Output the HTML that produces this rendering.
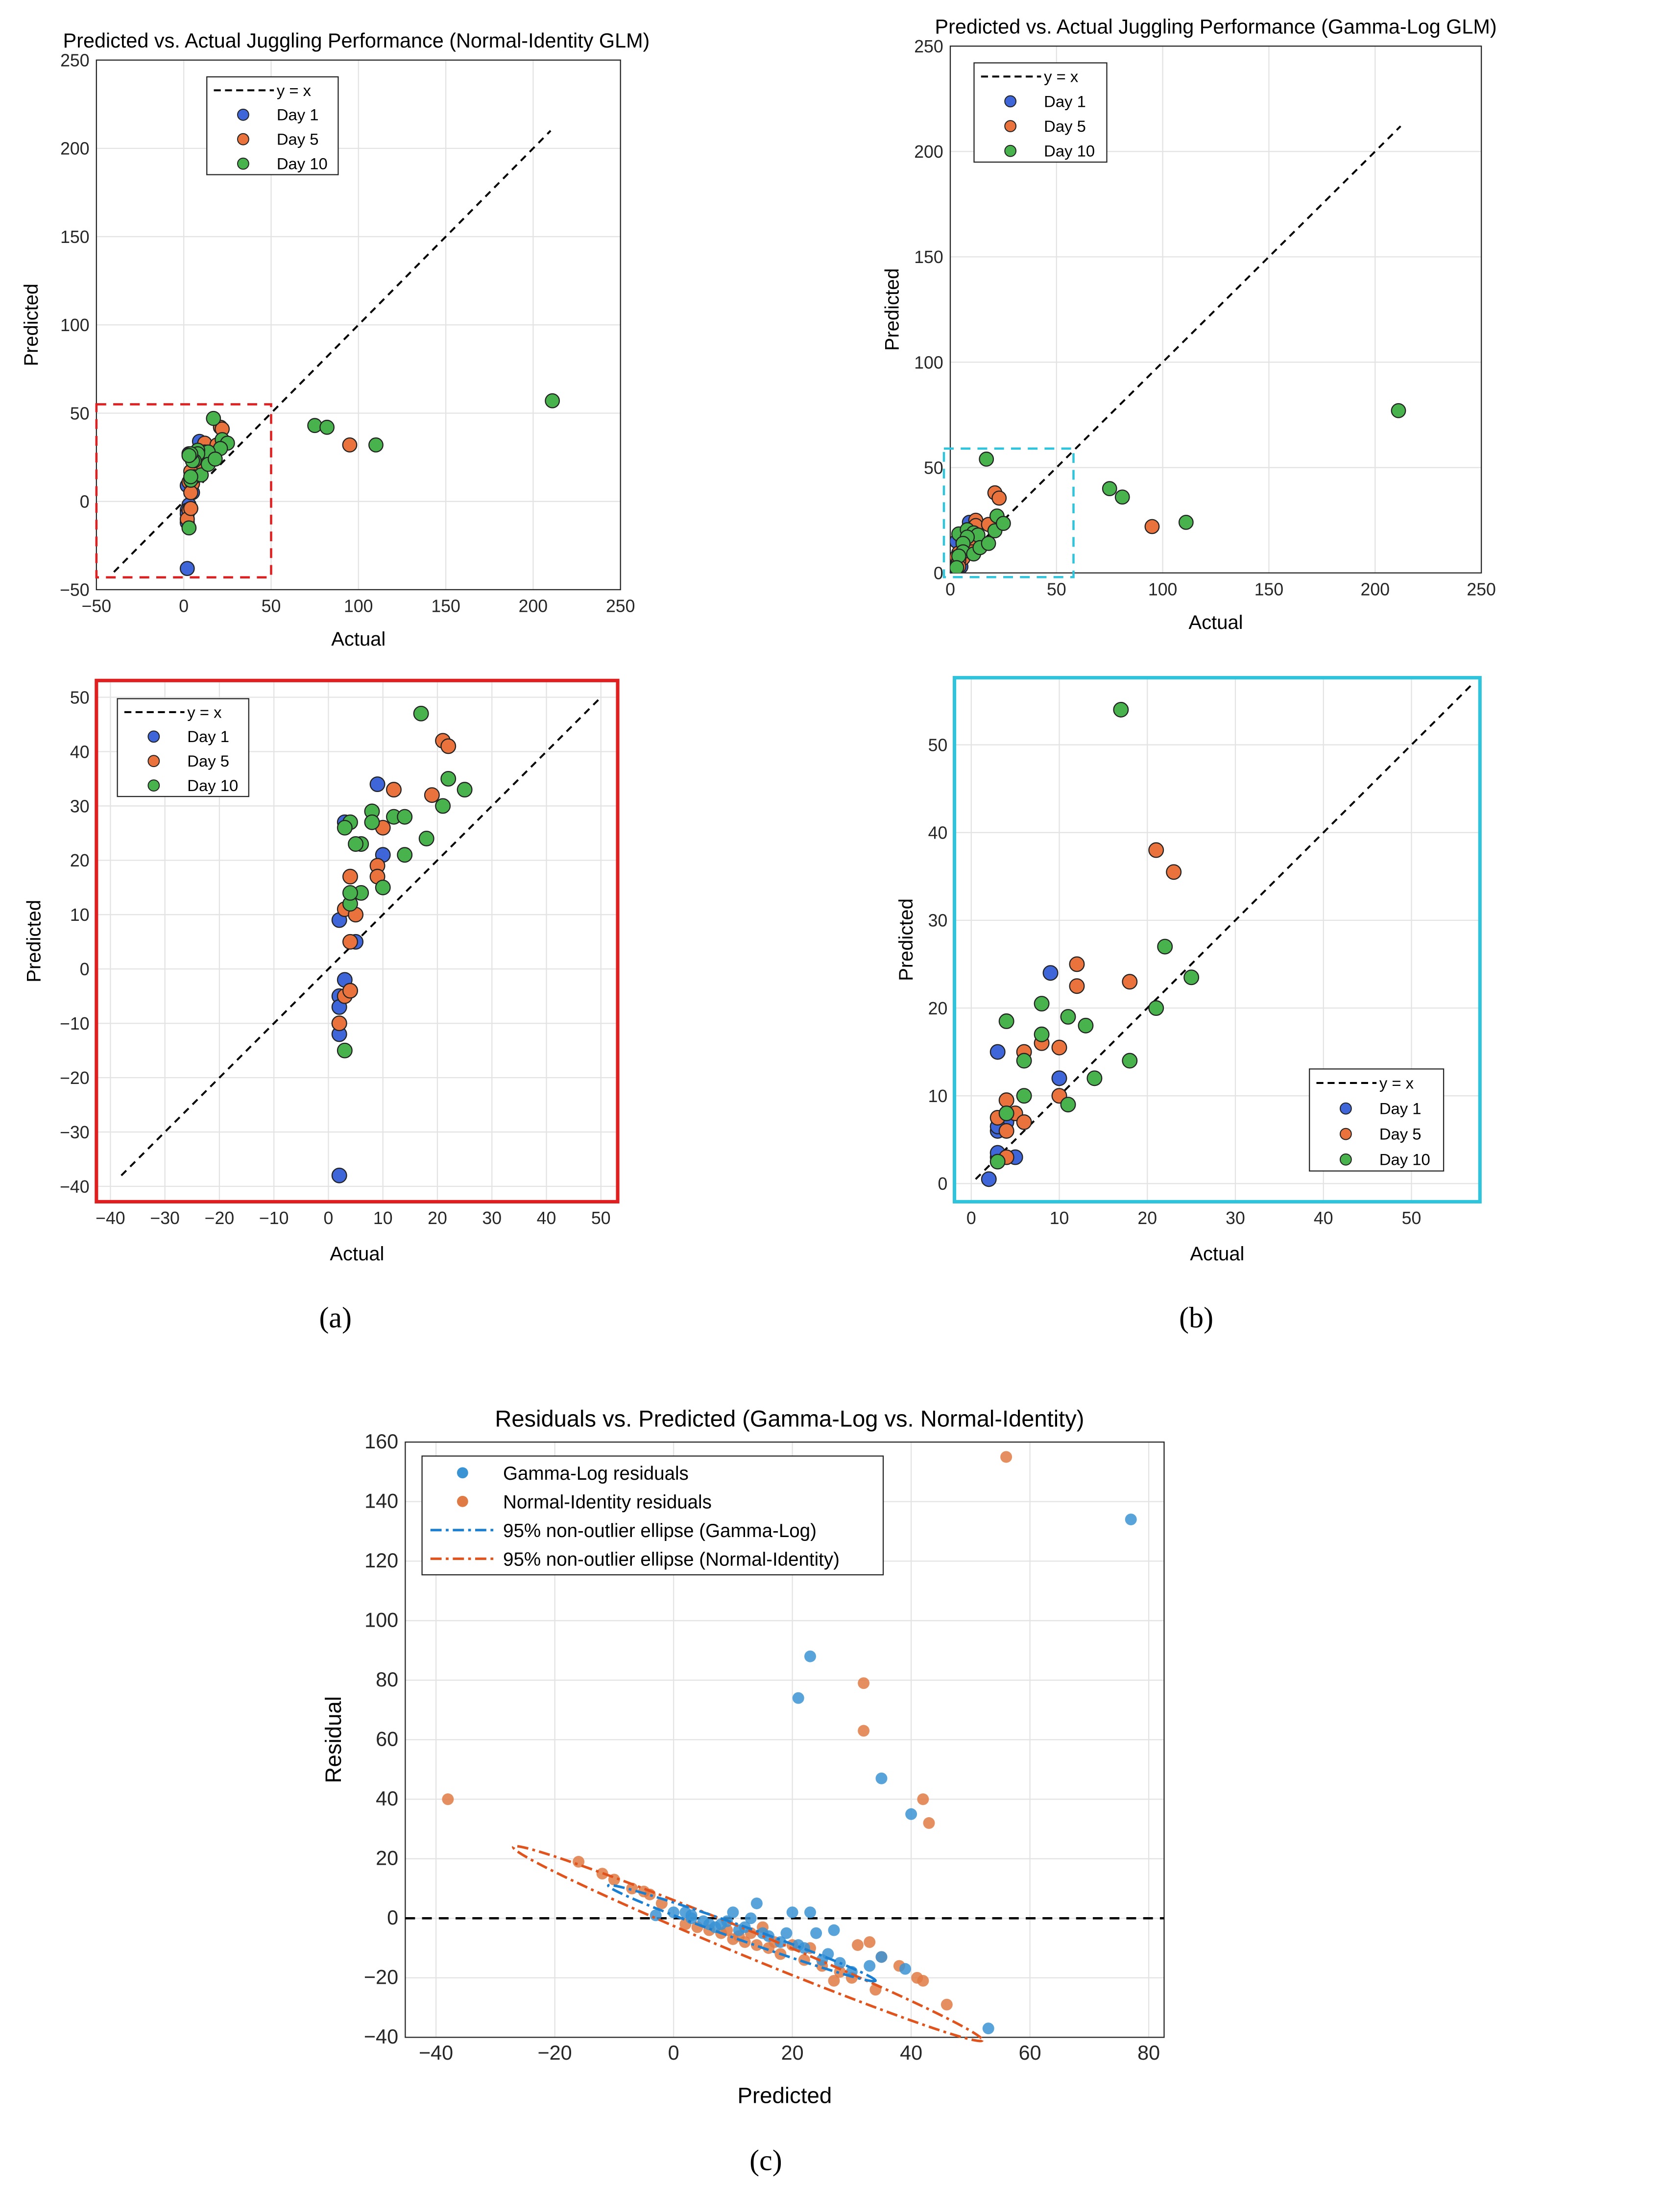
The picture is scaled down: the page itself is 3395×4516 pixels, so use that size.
<!DOCTYPE html>
<html><head><meta charset="utf-8"><style>
html,body{margin:0;padding:0;background:#fff}
svg{display:block}
text{font-family:"Liberation Sans",sans-serif}
</style></head><body>
<svg id="fig" xmlns="http://www.w3.org/2000/svg" width="3395" height="4516" viewBox="0 0 1190 1583" preserveAspectRatio="none">
<text x="255" y="34" text-anchor="middle" font-size="14.5">Predicted vs. Actual Juggling Performance (Normal-Identity GLM)</text>
<text x="870" y="24" text-anchor="middle" font-size="14.5">Predicted vs. Actual Juggling Performance (Gamma-Log GLM)</text>
<text x="565" y="1021" text-anchor="middle" font-size="16.5">Residuals vs. Predicted (Gamma-Log vs. Normal-Identity)</text>
<text x="240" y="950" text-anchor="middle" font-size="21" style="font-family:'Liberation Serif',serif">(a)</text>
<text x="856" y="950" text-anchor="middle" font-size="21" style="font-family:'Liberation Serif',serif">(b)</text>
<text x="548" y="1553" text-anchor="middle" font-size="21" style="font-family:'Liberation Serif',serif">(c)</text>
</svg>
<script>
// ---- data ----
const aDay1 = [[9,34],[3,27],[10,21],[5,5],[2,9],[3,-2],[2,-5],[2,-7],[4,-4],[2,-10],[2,-12],[2,-38]];
const aDay5 = [[21,42],[22,41],[12,33],[10,26],[19,32],[9,19],[9,17],[4,17],[3,11],[5,10],[4,5],[3,-5],[2,-10],[4,-4],[95,32]];
const aDay10 = [[17,47],[22,35],[25,33],[21,30],[12,28],[14,28],[8,29],[8,27],[6,23],[5,23],[4,27],[3,26],[6,14],[4,12],[10,15],[14,21],[18,24],[3,-15],[4,14],[75,43],[82,42],[110,32],[211,57]];
const bDay1 = [[2,0.5],[3,3],[3,3.5],[3,6],[3,15],[5,3],[9,24],[10,12],[4,7],[4,8],[3,6.5]];
const bDay5 = [[21,38],[23,35.5],[12,25],[12,22.5],[18,23],[8,16],[10,15.5],[6,15],[4,9.5],[5,8],[6,7],[10,10],[3,7.5],[4,6],[4,3],[95,22]];
const bDay10 = [[17,54],[4,18.5],[8,20.5],[11,19],[13,18],[8,17],[6,14],[6,10],[11,9],[14,12],[18,14],[21,20],[22,27],[25,23.5],[4,8],[3,2.5],[75,40],[81,36],[111,24],[211,77]];
const cGamma = [[77,134],[23,88],[21,74],[35,47],[40,35],[53,-37],[-3,1],[0,2],[2,2],[3,1],[3,0],[5,-1],[6,-2],[7,-3],[8,-2],[9,-1],[10,2],[11,-4],[12,-3],[13,0],[14,5],[15,-5],[16,-6],[18,-8],[19,-5],[20,2],[21,-9],[22,-10],[23,2],[24,-5],[25,-14],[26,-12],[27,-4],[28,-15],[30,-18],[33,-16],[35,-13],[39,-17]];
const cNormal = [[-38,40],[56,155],[32,79],[32,63],[42,40],[43,32],[-16,19],[-12,15],[-10,13],[-7,10],[-5,9],[-4,8],[-2,5],[2,-2],[4,-3],[6,-4],[8,-5],[9,-4],[10,-7],[11,-6],[12,-8],[13,-5],[14,-9],[15,-3],[16,-10],[17,-8],[18,-12],[20,-9],[22,-14],[23,-10],[25,-16],[27,-21],[28,-18],[30,-20],[31,-9],[33,-8],[34,-24],[35,-13],[38,-16],[41,-20],[42,-21],[46,-29]];
const tA = [-50,0,50,100,150,200,250];
const tA2 = [-40,-30,-20,-10,0,10,20,30,40,50];
const tB = [0,50,100,150,200,250];
const tB2 = [0,10,20,30,40,50];
const tCx = [-40,-20,0,20,40,60,80];
const tCy = [-40,-20,0,20,40,60,80,100,120,140,160];

const NS="http://www.w3.org/2000/svg";
const svg=document.getElementById('fig');
function mk(tag,attrs,parent){const e=document.createElementNS(NS,tag);for(const k in attrs)e.setAttribute(k,attrs[k]);(parent||svg).appendChild(e);return e;}
function fmt(v){return v<0?'\u2212'+(-v):''+v;}

function panel(p){
  const g=mk('g',{});
  
  
  const sx=v=>p.L+(v-p.x0)/(p.x1-p.x0)*(p.R-p.L);
  const sy=v=>p.B-(v-p.y0)/(p.y1-p.y0)*(p.B-p.T);
  mk('rect',{x:p.L,y:p.T,width:p.R-p.L,height:p.B-p.T,fill:'#fff'},g);
  p.xt.forEach(v=>{const X=sx(v);
    const l=mk('line',{x1:X,x2:X,y1:p.T,y2:p.B,stroke:'#e3e3e3','stroke-width':0.8},g);
    
    const t=mk('text',{x:X,y:p.B+16,'text-anchor':'middle','font-size':p.fs,fill:'#262626'},g);t.textContent=fmt(v);
    });
  p.yt.forEach(v=>{const Y=sy(v);
    const l=mk('line',{x1:p.L,x2:p.R,y1:Y,y2:Y,stroke:'#e3e3e3','stroke-width':0.8},g);
    
    const t=mk('text',{x:p.L-5,y:Y+4.5,'text-anchor':'end','font-size':p.fs,fill:'#262626'},g);t.textContent=fmt(v);
    });
  mk('rect',{x:p.L,y:p.T,width:p.R-p.L,height:p.B-p.T,fill:'none',stroke:p.frame||'#262626','stroke-width':p.fw||0.8},g);
  const xl=mk('text',{x:(p.L+p.R)/2,y:p.B+p.xlOff,'text-anchor':'middle','font-size':p.fs+1.5},g);xl.textContent=p.xl;
  
  const yx=p.L-p.ylOff, yy=(p.T+p.B)/2;
  const yl=mk('text',{x:yx,y:yy,'text-anchor':'middle','font-size':p.fs+1.5,transform:`rotate(-90 ${yx} ${yy})`},g);yl.textContent=p.yl;
  
  return {g,sx,sy};
}
function clipFor(id,p){const c=mk('clipPath',{id});mk('rect',{x:p.L,y:p.T,width:p.R-p.L,height:p.B-p.T},c);return `url(#${id})`;}

function scatterPanel(p,d1,d5,d10,lineEnds,legend){
  const {g,sx,sy}=panel(p);
  const clip=clipFor(p.name+'-clip',p);
  const ln=mk('line',{x1:sx(lineEnds[0]),y1:sy(lineEnds[0]),x2:sx(lineEnds[1]),y2:sy(lineEnds[1]),stroke:'#000','stroke-width':1.4,'stroke-dasharray':'5,4'},g);
  
  const sets=[[d1,'#3f66d8','day1-point'],[d5,'#ea733d','day5-point'],[d10,'#48b24c','day10-point']];
  sets.forEach(([arr,col,nm])=>arr.forEach(([x,y])=>{
    const c=mk('circle',{cx:sx(x),cy:sy(y),r:p.r,fill:col,stroke:'#222','stroke-width':0.8,'clip-path':clip},g);
    }));
  const [lx,ly,lw,lh]=legend;
  const lg=mk('g',{},g);
  
  mk('rect',{x:lx,y:ly,width:lw,height:lh,fill:'#fff',stroke:'#262626','stroke-width':0.8},lg);
  const rowH=lh/4;
  mk('line',{x1:lx+5,x2:lx+48,y1:ly+rowH*0.55,y2:ly+rowH*0.55,stroke:'#000','stroke-width':1.4,'stroke-dasharray':'5,3'},lg);
  const t0=mk('text',{x:lx+50,y:ly+rowH*0.55+4,'font-size':11.5},lg);t0.textContent='y = x';
  ['Day 1','Day 5','Day 10'].forEach((s,i)=>{const cy=ly+rowH*(i+1.55);
    mk('circle',{cx:lx+26,cy,r:4,fill:sets[i][1],stroke:'#222','stroke-width':0.7},lg);
    const t=mk('text',{x:lx+50,y:cy+4,'font-size':11.5},lg);t.textContent=s;
    });
  return {g,sx,sy};
}

// Panel a top
const pa={name:'panel-a-full',L:69,R:444,T:43,B:422,x0:-50,x1:250,y0:-50,y1:250,xt:tA,yt:tA,fs:12.5,xl:'Actual',yl:'Predicted',xlOff:40,ylOff:42,r:5};
const A=scatterPanel(pa,aDay1,aDay5,aDay10,[-40,210],[148,55,94,70]);
mk('rect',{x:A.sx(-50),y:A.sy(55),width:A.sx(50)-A.sx(-50),height:A.sy(-43)-A.sy(55),fill:'none',stroke:'#e02020','stroke-width':1.6,'stroke-dasharray':'7,5'});
// Panel b top
const pb={name:'panel-b-full',L:680,R:1060,T:33,B:410,x0:0,x1:250,y0:0,y1:250,xt:tB,yt:tB,fs:12.5,xl:'Actual',yl:'Predicted',xlOff:40,ylOff:37,r:5};
const B=scatterPanel(pb,bDay1,bDay5,bDay10,[0,212],[697,45,95,71]);
mk('rect',{x:B.sx(-3),y:B.sy(59),width:B.sx(58)-B.sx(-3),height:B.sy(-2)-B.sy(59),fill:'none',stroke:'#2fc4dc','stroke-width':1.6,'stroke-dasharray':'7,5'});
// Panel a zoom
const pa2={name:'panel-a-zoom',L:69,R:442,T:487,B:860,x0:-40-10/39*10,x1:50+12/39*10,y0:-40-11/38.9*10,y1:50+12/38.9*10,xt:tA2,yt:tA2,fs:12.5,xl:'Actual',yl:'Predicted',xlOff:42,ylOff:40,r:5.2,frame:'#e02020',fw:2.5};
scatterPanel(pa2,aDay1,aDay5,aDay10,[-38,50],[84,500,94,70]);
// Panel b zoom
const pb2={name:'panel-b-zoom',L:683,R:1059,T:485,B:860,x0:-12/6.3,x1:50+49/6.3,y0:-13/6.28,y1:50+48/6.28,xt:tB2,yt:tB2,fs:12.5,xl:'Actual',yl:'Predicted',xlOff:42,ylOff:30,r:5.2,frame:'#2fc4dc',fw:2.5};
scatterPanel(pb2,bDay1,bDay5,bDay10,[0.5,57],[937,765,96,73]);

// Panel c
const pc={name:'panel-c',L:290,R:833,T:1032,B:1458,x0:-40-22/4.25,x1:80+11/4.25,y0:-40,y1:160,xt:tCx,yt:tCy,fs:14.5,xl:'Predicted',yl:'Residual',xlOff:47,ylOff:46};
const C=panel(pc);
const clipC=clipFor('panel-c-clip',pc);
const zl=mk('line',{x1:pc.L,x2:pc.R,y1:C.sy(0),y2:C.sy(0),stroke:'#000','stroke-width':1.6,'stroke-dasharray':'7,5'});

cNormal.forEach(([x,y])=>{const c=mk('circle',{cx:C.sx(x),cy:C.sy(y),r:4.2,fill:'#e07a44','fill-opacity':0.85,'clip-path':clipC});
  });
cGamma.forEach(([x,y])=>{const c=mk('circle',{cx:C.sx(x),cy:C.sy(y),r:4.2,fill:'#3a93d3','fill-opacity':0.85,'clip-path':clipC});
  });
function ell(x1,y1,x2,y2,minor,col,nm){
  const X1=C.sx(x1),Y1=C.sy(y1),X2=C.sx(x2),Y2=C.sy(y2);
  const cx=(X1+X2)/2,cy=(Y1+Y2)/2,a=Math.hypot(X2-X1,Y2-Y1)/2,ang=Math.atan2(Y2-Y1,X2-X1)*180/Math.PI;
  const e=mk('ellipse',{cx,cy,rx:a,ry:minor,fill:'none',stroke:col,'stroke-width':1.8,'stroke-dasharray':'8,3,2,3',transform:`rotate(${ang} ${cx} ${cy})`,'clip-path':clipC});
  
}
ell(-27,24,52,-41,9,'#e0531c','normal-ellipse');
ell(-11,11,34,-21,5,'#1a7fd0','gamma-ellipse');
// legend c
const lgc=mk('g',{});

mk('rect',{x:302,y:1042,width:330,height:85,fill:'#fff',stroke:'#262626','stroke-width':0.8},lgc);
const items=[['dot','#3a93d3','Gamma-Log residuals'],['dot','#e07a44','Normal-Identity residuals'],['line','#1a7fd0','95% non-outlier ellipse (Gamma-Log)'],['line','#e0531c','95% non-outlier ellipse (Normal-Identity)']];
items.forEach(([k,col,s],i)=>{const cy=1054+i*20.5;
  if(k==='dot')mk('circle',{cx:331,cy,r:4,fill:col},lgc);
  else mk('line',{x1:308,x2:356,y1:cy,y2:cy,stroke:col,'stroke-width':1.8,'stroke-dasharray':'8,3,2,3'},lgc);
  const t=mk('text',{x:360,y:cy+5,'font-size':13.5},lgc);t.textContent=s;
  });
</script>
</body></html>
